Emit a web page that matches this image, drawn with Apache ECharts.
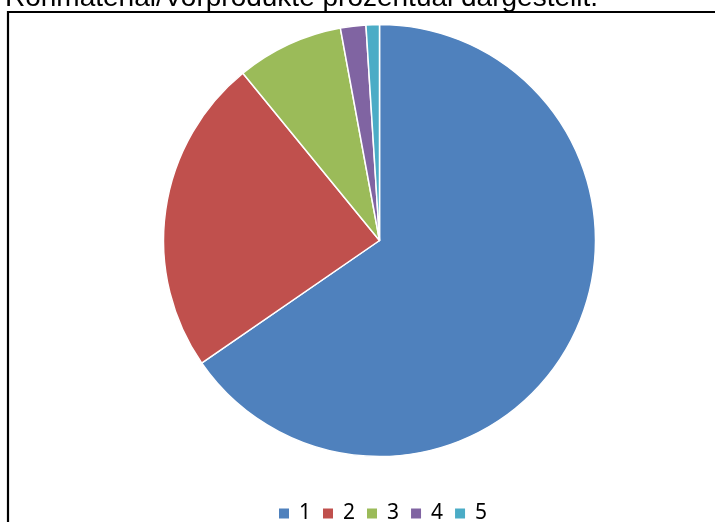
<!DOCTYPE html>
<html><head><meta charset="utf-8">
<script src="https://cdn.jsdelivr.net/npm/echarts@6/dist/echarts.min.js"></script>
<style>html,body{margin:0;padding:0;background:#fff;}#c{width:715px;height:522px;}</style>
</head><body><div id="c"></div>
<script>
var categories = ['1', '2', '3', '4', '5'];
var values = [65.4, 23.7, 8.0, 1.9, 1.0];
var colors = ['#4F81BD', '#C0504D', '#9BBB59', '#8064A2', '#4BACC6'];
var headline = 'Rohmaterial/Vorprodukte prozentual dargestellt.';

var chart = echarts.init(document.getElementById('c'), null, {renderer: 'canvas'});
chart.setOption({
  animation: false,
  backgroundColor: '#fff',
  graphic: [
    {type: 'rect', shape: {x: 8, y: 12, width: 720, height: 520},
     style: {fill: 'none', stroke: '#000', lineWidth: 2.2}, z: 0},
    {type: 'text', x: 5, y: -2,
     style: {text: headline, font: '28px "Liberation Sans", Arial, sans-serif', fill: '#000',
             verticalAlign: 'middle', align: 'left'}}
  ],
  legend: {
    data: categories,
    left: 274, top: 498,
    icon: 'rect', itemWidth: 10, itemHeight: 10, itemGap: 12,
    itemStyle: {borderWidth: 0},
    textStyle: {fontSize: 21, fontFamily: '"Noto Sans", sans-serif', color: '#000', padding: [0, 0, 0, 5]}
  },
  series: [{
    type: 'pie',
    center: [379.5, 240.5],
    radius: 216,
    startAngle: 90,
    clockwise: true,
    label: {show: false},
    labelLine: {show: false},
    itemStyle: {borderColor: '#fff', borderWidth: 1.5},
    emphasis: {disabled: true},
    data: categories.map(function (c, i) {
      return {name: c, value: values[i], itemStyle: {color: colors[i]}};
    })
  }]
});
</script></body></html>
